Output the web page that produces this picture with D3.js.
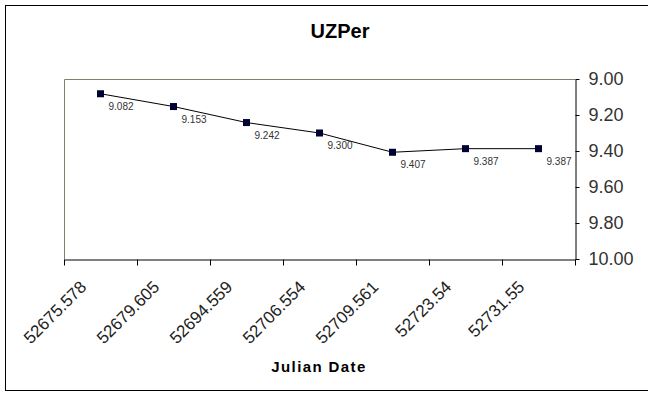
<!DOCTYPE html>
<html>
<head>
<meta charset="utf-8">
<script src="https://cdn.jsdelivr.net/npm/d3@7"></script>
<style>
  body { margin: 0; background: #fff; }
  svg { font-family: "Liberation Sans", Arial, sans-serif; }
</style>
</head>
<body>
<div id="chart"></div>
<script>
// chart data
var dates = ["52675.578", "52679.605", "52694.559", "52706.554", "52709.561", "52723.54", "52731.55"];
var uzper = [9.082, 9.153, 9.242, 9.300, 9.407, 9.387, 9.387];
var yTicks = [9.0, 9.2, 9.4, 9.6, 9.8, 10.0];

var svgWidth = 648;
var svgHeight = 397;

// plot area edges
var plot = { left: 64, right: 575, top: 79, bottom: 259 };

var svg = d3.select("#chart")
  .append("svg")
  .attr("width", svgWidth)
  .attr("height", svgHeight);

// outer chart border (runs off the right side)
svg.append("rect")
  .attr("x", 5.5)
  .attr("y", 5.5)
  .attr("width", 720)
  .attr("height", 385)
  .attr("fill", "none")
  .attr("stroke", "#000");

// scales
var xBand = d3.scaleBand()
  .domain(dates)
  .range([plot.left, plot.right])
  .padding(0);

var xEdge = d3.scaleLinear()
  .domain([0, dates.length])
  .range([plot.left, plot.right]);

var yScale = d3.scaleLinear()
  .domain([9, 10])
  .range([plot.top, plot.bottom]);

// plot area frame (top + left, olive grey)
svg.append("path")
  .attr("d", `M${plot.left + 0.5},${plot.bottom} V${plot.top + 0.5} H${plot.right}`)
  .attr("fill", "none")
  .attr("stroke", "#808070");

// x axis, ticks between categories
var xAxis = svg.append("g")
  .attr("transform", `translate(0, ${plot.bottom + 0.5})`)
  .call(d3.axisBottom(xEdge)
    .tickValues(d3.range(dates.length + 1))
    .tickFormat("")
    .tickSize(6)
    .tickSizeOuter(0));
xAxis.select(".domain").attr("stroke", "#000");
xAxis.selectAll(".tick line").attr("stroke", "#000");

// rotated category labels
svg.append("g").selectAll("text")
  .data(dates)
  .enter()
  .append("text")
  .attr("transform", d => `translate(${xBand(d) + xBand.bandwidth() / 2 - 13}, 288) rotate(-45)`)
  .attr("text-anchor", "end")
  .attr("font-size", 17)
  .attr("fill", "#222")
  .text(d => d);

// y axis on the right, reversed
var yAxis = svg.append("g")
  .attr("transform", `translate(${plot.right + 0.5}, 0)`)
  .call(d3.axisRight(yScale)
    .tickValues(yTicks)
    .tickFormat(d3.format(".2f"))
    .tickSize(4)
    .tickSizeOuter(0)
    .tickPadding(9));
yAxis.select(".domain").attr("stroke", "#000");
yAxis.selectAll(".tick line").attr("stroke", "#000");
yAxis.selectAll(".tick text")
  .attr("font-size", 18)
  .attr("font-family", "Liberation Sans, Arial, sans-serif")
  .attr("fill", "#333");

// line
var line = d3.line()
  .x((d, i) => xBand(dates[i]) + xBand.bandwidth() / 2)
  .y(d => yScale(d));

svg.append("path")
  .datum(uzper)
  .attr("d", line)
  .attr("fill", "none")
  .attr("stroke", "#000")
  .attr("stroke-width", 1);

// markers
svg.append("g").selectAll("rect")
  .data(uzper)
  .enter()
  .append("rect")
  .attr("x", (d, i) => xBand(dates[i]) + xBand.bandwidth() / 2 - 3.5)
  .attr("y", d => yScale(d) - 3.5)
  .attr("width", 7)
  .attr("height", 7)
  .attr("fill", "#000033");

// data labels
svg.append("g").selectAll("text")
  .data(uzper)
  .enter()
  .append("text")
  .attr("x", (d, i) => xBand(dates[i]) + xBand.bandwidth() / 2 + 8)
  .attr("y", d => yScale(d) + 16)
  .attr("font-size", 10)
  .attr("fill", "#333")
  .text(d => d.toFixed(3));

// title
svg.append("text")
  .attr("x", 340)
  .attr("y", 38)
  .attr("text-anchor", "middle")
  .attr("font-size", 20)
  .attr("font-weight", "bold")
  .text("UZPer");

// x axis title
svg.append("text")
  .attr("x", 319)
  .attr("y", 372)
  .attr("text-anchor", "middle")
  .attr("font-size", 15)
  .attr("font-weight", "bold")
  .attr("letter-spacing", 1.4)
  .text("Julian Date");
</script>
</body>
</html>
